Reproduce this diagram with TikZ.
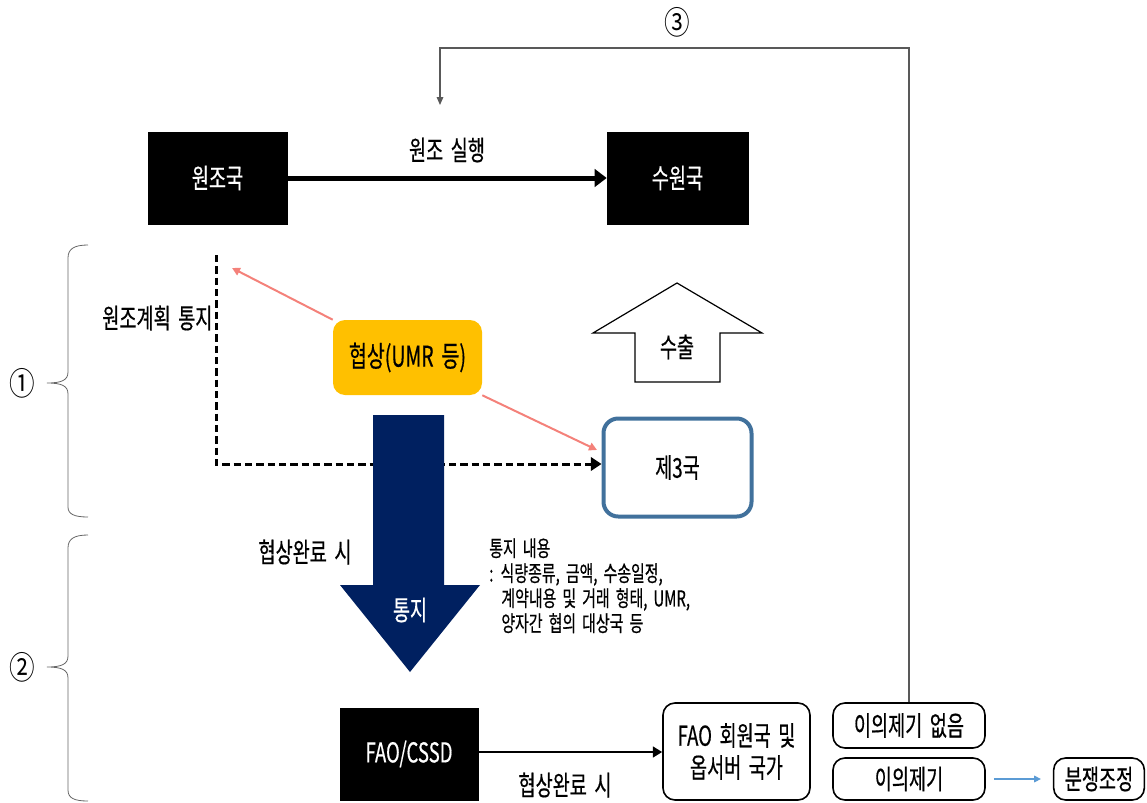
\documentclass[tikz,border=0pt]{standalone}
\usepackage{fontspec}
\setmainfont{Noto Sans CJK KR}[FakeStretch=0.68, WordSpace=1.8, FakeBold=0.5]
\newfontfamily\circfont{Noto Sans CJK KR}[FakeStretch=0.8]
\usetikzlibrary{arrows.meta}
\definecolor{navyc}{HTML}{002060}
\definecolor{orangec}{HTML}{FFC000}
\definecolor{bluec}{HTML}{41719C}
\definecolor{pinkc}{HTML}{F4817A}
\definecolor{lbluec}{HTML}{5B9BD5}
\tikzset{
  blackbox/.style={fill=black, text=white, draw=black, inner sep=0pt, font=\fontsize{20.5}{23}\selectfont},
  roundbox/.style={draw=black, line width=1.2pt, rounded corners=9pt, inner sep=0pt, align=center, font=\fontsize{20.5}{24}\selectfont},
  lbl/.style={font=\fontsize{20.5}{23}\selectfont, inner sep=1pt},
  small/.style={font=\fontsize{16.5}{18.75}\selectfont, inner sep=0pt, align=left},
  circnum/.style={font=\circfont\fontsize{24}{24}\selectfont, inner sep=0pt},
  brc/.style={draw=gray!80!black, line width=0.6pt},
  pinkarrow/.style={draw=pinkc, line width=1.5pt, -{Triangle[length=6pt,width=6pt]}},
}
\begin{document}
\begin{tikzpicture}[x=0.75pt,y=-0.75pt]
\useasboundingbox (0,0) rectangle (1147,803);

% circled numbers
\node[circnum] (c3) at (677,22) {③};
\node[circnum] (c1) at (22,383) {①};
\node[circnum] (c2) at (22,667) {②};

% braces
\draw[brc] (88,245) .. controls (74,245) and (68,249) .. (68,258) -- (68,372) .. controls (68,380) and (62,383) .. (47,383)
  .. controls (62,383) and (68,386) .. (68,394) -- (68,507) .. controls (68,514) and (74,517) .. (88,517);
\draw[brc] (88,535) .. controls (74,535) and (68,539) .. (68,548) -- (68,656) .. controls (68,664) and (62,667) .. (47,667)
  .. controls (62,667) and (68,670) .. (68,678) -- (68,790) .. controls (68,798) and (74,801) .. (88,801);

% top boxes
\node[blackbox, minimum width=104.25pt, minimum height=69pt] (donor) at (217.5,178) {원조국};
\node[blackbox, minimum width=105.75pt, minimum height=69pt] (recip) at (677.5,178) {수원국};
\draw[line width=3.75pt, -{Triangle[length=9pt,width=13pt]}] (donor.east) -- (recip.west);
\node[lbl] (exec) at (447,150) {원조 실행};

% third country
\node[draw=bluec, line width=3pt, rounded corners=11pt, minimum width=111pt, minimum height=73.5pt, inner sep=0pt, font=\fontsize{20.5}{23}\selectfont] (third) at (677.5,467.5) {제3국};

% dashed notification
\coordinate (dstart) at (216,255);
\draw[line width=2.25pt, dash pattern=on 5.5pt off 3pt, -{Triangle[length=8pt,width=10pt]}] (dstart) |- (third.west |- 0,464);
\node[lbl, anchor=east] (plan) at (214,318) {원조계획 통지};

% navy arrow
\fill[navyc] (373,415) -- (444,415) -- (444,585) -- (480,585) -- (410,672) -- (340,585) -- (373,585) -- cycle;
\node[lbl, text=white] (notice) at (410,610) {통지};

% negotiation box
\node[fill=orangec, rounded corners=9pt, minimum width=111.75pt, minimum height=56.25pt, inner sep=0pt, font=\fontsize{21.5}{23}\selectfont] (nego) at (407.5,357.5) {협상(UMR 등)};
\coordinate (pk1) at (232,268);
\coordinate (pk2) at (597,450);
\draw[pinkarrow] (nego.north west) -- (pk1);
\draw[pinkarrow] (nego.south east) -- (pk2);

% export arrow
\draw[line width=0.9pt] (677,283) -- (762,333) -- (720,333) -- (720,382) -- (635,382) -- (635,333) -- (593,333) -- cycle;
\node[lbl] (export) at (677,347) {수출};

% completion labels and notice contents
\node[lbl] (done1) at (305,552) {협상완료 시};
\node[small, anchor=north west] (content) at (489,538) {통지 내용\\: 식량종류, 금액, 수송일정,\\\ \ 계약내용 및 거래 형태, UMR,\\\ \ 양자간 협의 대상국 등};

% bottom row
\node[blackbox, minimum width=103.5pt, minimum height=69pt] (fao) at (409,754) {FAO/CSSD};
\node[roundbox, minimum width=110.25pt, minimum height=72.75pt] (members) at (736.5,751.5) {FAO 회원국 및\\옵서버 국가};
\draw[line width=2pt, -{Triangle[length=7pt,width=8pt]}] (fao.east |- 0,752) -- (members.west |- 0,752);
\node[lbl] (done2) at (565,785) {협상완료 시};

\node[roundbox, minimum width=114pt, minimum height=33.75pt] (noobj) at (909,725.5) {이의제기 없음};
\node[roundbox, minimum width=114pt, minimum height=31.5pt] (obj) at (909,779) {이의제기};
\node[roundbox, minimum width=68pt, minimum height=31.5pt] (disp) at (1099,779) {분쟁조정};
\draw[draw=lbluec, line width=0.8pt, -{Triangle[length=5pt,width=5pt]}, shorten <=6pt, shorten >=9pt] (obj.east) -- (disp.west);

% feedback line
\coordinate (fbtop) at (440,48);
\coordinate (fbend) at (440,105);
\draw[draw=gray!70!black, line width=0.8pt, -{Triangle[length=6pt,width=5pt]}] (noobj.north) -- (noobj.north |- fbtop) -- (fbtop) -- (fbend);
\end{tikzpicture}
\end{document}
